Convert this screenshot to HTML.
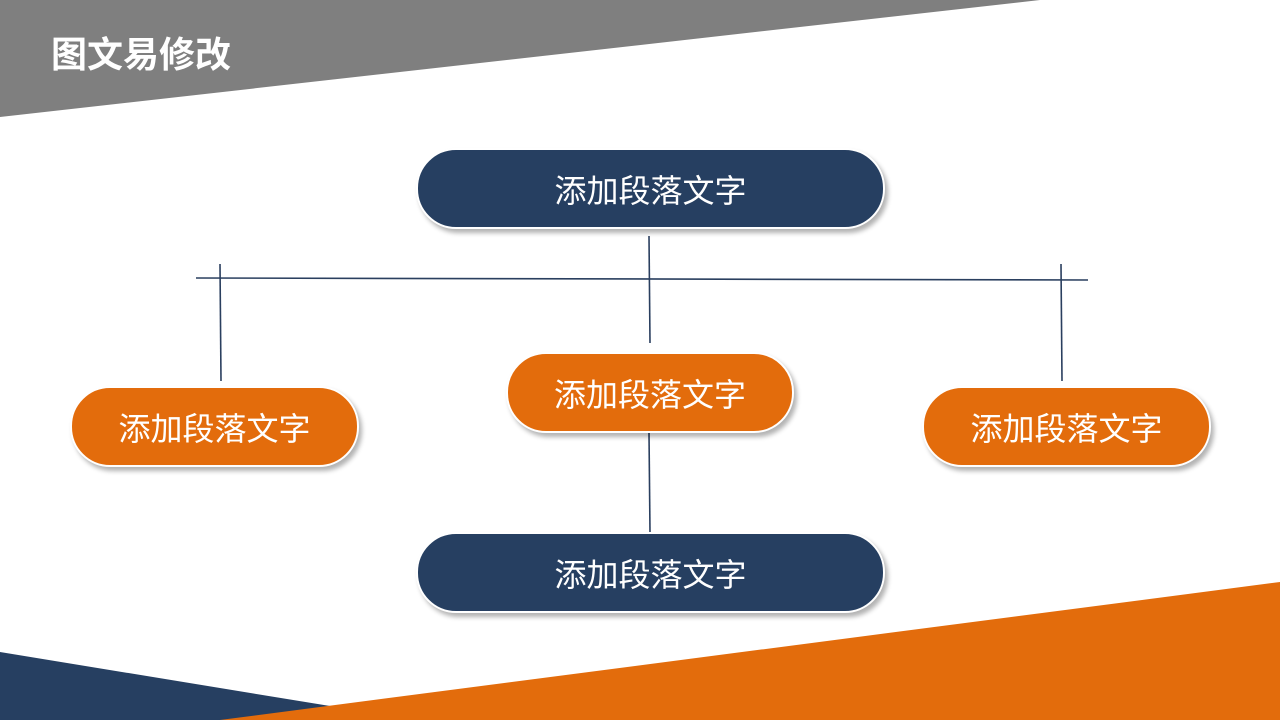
<!DOCTYPE html>
<html><head><meta charset="utf-8"><style>
body{margin:0;width:1280px;height:720px;overflow:hidden;background:#fff;position:relative;font-family:"Liberation Sans","Noto Sans CJK SC",sans-serif}
svg{position:absolute;left:0;top:0}
.p{position:absolute;border:2px solid #fff;box-sizing:border-box;border-radius:40px;color:#fff;font-size:32px;display:flex;align-items:center;justify-content:center;box-shadow:3px 4px 5px rgba(0,0,0,0.3)}
.n{background:#263f61}.o{background:#e36c0c}
.t{position:absolute;left:51px;top:26px;color:#fff;font-size:36px;font-weight:bold}
</style></head><body>
<svg width="1280" height="720">
<polygon points="0,0 1040,0 0,117" fill="#7f7f7f"/>
<polygon points="0,652 330,706 330,720 0,720" fill="#263f61"/>
<polygon points="220,720 1280,582 1280,720" fill="#e36c0c"/>
<g stroke="#2a3f5f" stroke-width="1.6">
<line x1="196" y1="278" x2="1088" y2="280"/>
<line x1="649" y1="236" x2="650" y2="343"/>
<line x1="220" y1="264" x2="221" y2="381"/>
<line x1="1061" y1="264" x2="1062" y2="381"/>
<line x1="649" y1="433" x2="650" y2="533"/>
</g>
</svg>
<div class="t">图文易修改</div>
<div class="p n" style="left:416px;top:148px;width:469px;height:81px">添加段落文字</div>
<div class="p o" style="left:506px;top:352px;width:288px;height:81px">添加段落文字</div>
<div class="p o" style="left:70px;top:386px;width:289px;height:81px">添加段落文字</div>
<div class="p o" style="left:922px;top:386px;width:289px;height:81px">添加段落文字</div>
<div class="p n" style="left:416px;top:532px;width:469px;height:81px">添加段落文字</div>
</body></html>
